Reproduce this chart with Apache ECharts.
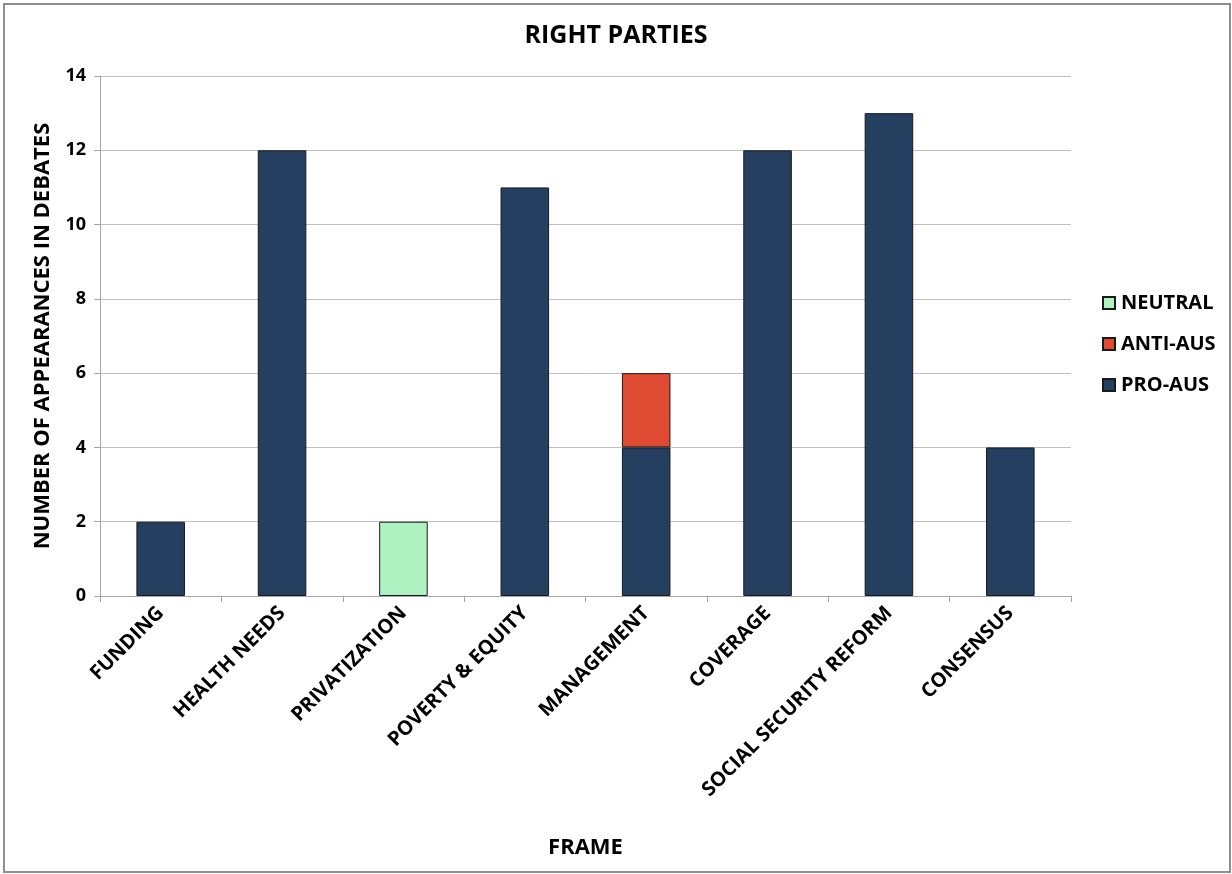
<!DOCTYPE html>
<html>
<head>
<meta charset="utf-8">
<script src="https://cdn.jsdelivr.net/npm/echarts@6/dist/echarts.min.js"></script>
<style>
  html, body { margin: 0; padding: 0; background: #fff; }
  #chart { position: absolute; left: 0; top: 0; width: 1232px; height: 874px; }
  #frame { position: absolute; left: 3px; top: 3px; width: 1224px; height: 866px; border: 2px solid #8e8e8e; z-index: 10; pointer-events: none; }
</style>
</head>
<body>
<div id="chart"></div>
<div id="frame"></div>
<script>
const categories = ['FUNDING', 'HEALTH NEEDS', 'PRIVATIZATION', 'POVERTY & EQUITY', 'MANAGEMENT', 'COVERAGE', 'SOCIAL SECURITY REFORM', 'CONSENSUS'];
const proAus  = [2, 12, 0, 11, 4, 12, 13, 4];
const antiAus = [0, 0, 0, 0, 2, 0, 0, 0];
const neutral = [0, 0, 2, 0, 0, 0, 0, 0];
const yTicks = [0, 2, 4, 6, 8, 10, 12, 14];

const FONT = '"Open Sans", "Liberation Sans", sans-serif';
// empty stack segments are skipped so no zero-height outline is drawn
const seg = arr => arr.map(v => (v === 0 ? '-' : v));

const chart = echarts.init(document.getElementById('chart'), null, { renderer: 'canvas' });

const barCommon = {
  type: 'bar',
  stack: 'total',
  barWidth: '40%',
  itemStyle: { borderColor: '#1a1a1a', borderWidth: 1 }
};

chart.setOption({
  animation: false,
  backgroundColor: '#fff',
  title: {
    text: 'RIGHT PARTIES',
    left: 'center',
    top: 18,
    textStyle: { fontFamily: FONT, fontWeight: 'bold', fontSize: 25, color: '#000' }
  },
  legend: {
    orient: 'vertical',
    left: 1097,
    top: 288,
    itemGap: 21,
    itemWidth: 12,
    itemHeight: 12,
    icon: 'rect',
    data: ['NEUTRAL', 'ANTI-AUS', 'PRO-AUS'],
    textStyle: { fontFamily: FONT, fontWeight: 'bold', fontSize: 20, color: '#000', padding: [0, 0, 0, 1] }
  },
  grid: { left: 100, right: 161, top: 76, bottom: 278, containLabel: false },
  xAxis: {
    type: 'category',
    data: categories,
    name: 'FRAME',
    nameLocation: 'middle',
    nameGap: 241,
    nameTextStyle: { fontFamily: FONT, fontWeight: 'bold', fontSize: 22, color: '#000' },
    axisLine: { lineStyle: { color: '#a6a6a6', width: 1 } },
    axisTick: { show: true, alignWithLabel: false, length: 6, lineStyle: { color: '#a6a6a6' } },
    axisLabel: {
      rotate: 45,
      margin: 14,
      interval: 0,
      fontFamily: FONT,
      fontWeight: 'bold',
      fontSize: 20,
      color: '#000'
    }
  },
  yAxis: {
    type: 'value',
    min: yTicks[0],
    max: yTicks[yTicks.length - 1],
    interval: 2,
    name: 'NUMBER OF APPEARANCES IN DEBATES',
    nameLocation: 'middle',
    nameGap: 46,
    nameTextStyle: { fontFamily: FONT, fontWeight: 'bold', fontSize: 22, color: '#000' },
    axisLine: { show: true, lineStyle: { color: '#a6a6a6', width: 1 } },
    axisTick: { show: true, length: 6, lineStyle: { color: '#a6a6a6' } },
    splitLine: { show: true, lineStyle: { color: '#c0c0c0', width: 1 } },
    axisLabel: { margin: 14, fontFamily: FONT, fontWeight: 'bold', fontSize: 18, color: '#000' }
  },
  series: [
    Object.assign({}, barCommon, { name: 'PRO-AUS', data: seg(proAus), itemStyle: Object.assign({}, barCommon.itemStyle, { color: '#243f60' }) }),
    Object.assign({}, barCommon, { name: 'ANTI-AUS', data: seg(antiAus), itemStyle: Object.assign({}, barCommon.itemStyle, { color: '#df4a33' }) }),
    Object.assign({}, barCommon, { name: 'NEUTRAL', data: seg(neutral), itemStyle: Object.assign({}, barCommon.itemStyle, { color: '#adf2c0' }) })
  ]
});
</script>
</body>
</html>
